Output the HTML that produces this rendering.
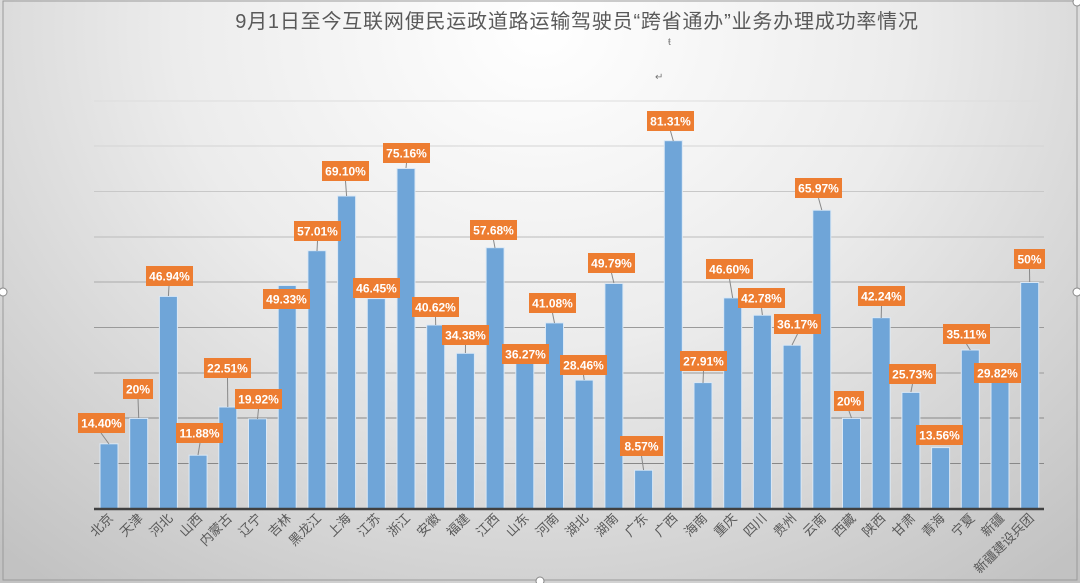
<!DOCTYPE html>
<html><head><meta charset="utf-8"><style>
html,body{margin:0;padding:0;width:1080px;height:583px;overflow:hidden;background:#fff}
svg{display:block}
.lb{font-family:"Liberation Sans",sans-serif;font-weight:bold;font-size:12px;fill:#fff;text-anchor:middle}
.xl{font-family:"Liberation Sans","Noto Sans CJK SC",sans-serif;font-size:13px;fill:#595959;text-anchor:end}
</style></head><body>
<svg width="1080" height="583" viewBox="0 0 1080 583">
<defs>
<radialGradient id="bg" cx="0.5" cy="0.05" r="0.75" gradientTransform="translate(0.5 0.05) scale(1 1.6) translate(-0.5 -0.05)">
<stop offset="0" stop-color="#ffffff"/><stop offset="0.45" stop-color="#ececec"/><stop offset="1" stop-color="#c2c2c2"/>
</radialGradient>
</defs>
<rect x="0" y="0" width="1080" height="583" fill="url(#bg)"/>
<rect x="3" y="1" width="1074" height="579" fill="none" stroke="#9a9a9a" stroke-width="1"/>
<circle cx="3" cy="292" r="4" fill="#fff" stroke="#888"/><circle cx="1077" cy="292" r="4" fill="#fff" stroke="#888"/>
<circle cx="540" cy="581" r="4" fill="#fff" stroke="#888"/><circle cx="1077" cy="2" r="4" fill="#fff" stroke="#888"/>
<text x="577" y="28" text-anchor="middle" font-family="'Liberation Sans','Noto Sans CJK SC',sans-serif" font-size="20" letter-spacing="0.8" fill="#595959">9月1日至今互联网便民运政道路运输驾驶员“跨省通办”业务办理成功率情况</text>
<text x="668" y="45" font-family="'Liberation Sans',sans-serif" font-size="10" fill="#777">ŧ</text>
<text x="655" y="80" font-family="'Liberation Sans',sans-serif" font-size="10" fill="#777">↵</text>
<g stroke="#9a9a9a" stroke-width="1">
<line x1="94" x2="1044" y1="101" y2="101" stroke="#ddd"/><line x1="94" x2="1044" y1="146" y2="146" stroke="#d4d4d4"/>
<line x1="94" x2="1044" y1="191.5" y2="191.5" stroke="#c8c8c8"/><line x1="94" x2="1044" y1="237" y2="237" stroke="#bbb"/>
<line x1="94" x2="1044" y1="282" y2="282" stroke="#aaa"/><line x1="94" x2="1044" y1="327.5" y2="327.5"/>
<line x1="94" x2="1044" y1="373" y2="373"/><line x1="94" x2="1044" y1="418" y2="418" stroke="#888"/>
<line x1="94" x2="1044" y1="463.5" y2="463.5" stroke="#888"/>
</g>
<g fill="#6fa5d8" stroke="#dbe8f5" stroke-width="1">
<rect x="100" y="443.8" width="18" height="65.2"/>
<rect x="129.7" y="418.4" width="18" height="90.6"/>
<rect x="159.4" y="296.4" width="18" height="212.6"/>
<rect x="189.1" y="455.2" width="18" height="53.8"/>
<rect x="218.8" y="407" width="18" height="102"/>
<rect x="248.5" y="418.8" width="18" height="90.2"/>
<rect x="278.2" y="285.5" width="18" height="223.5"/>
<rect x="307.9" y="250.7" width="18" height="258.3"/>
<rect x="337.6" y="196" width="18" height="313"/>
<rect x="367.3" y="298.6" width="18" height="210.4"/>
<rect x="397" y="168.5" width="18" height="340.5"/>
<rect x="426.7" y="325" width="18" height="184"/>
<rect x="456.4" y="353.3" width="18" height="155.7"/>
<rect x="486.1" y="247.7" width="18" height="261.3"/>
<rect x="515.8" y="344.7" width="18" height="164.3"/>
<rect x="545.5" y="322.9" width="18" height="186.1"/>
<rect x="575.2" y="380.1" width="18" height="128.9"/>
<rect x="604.9" y="283.5" width="18" height="225.5"/>
<rect x="634.6" y="470.2" width="18" height="38.8"/>
<rect x="664.3" y="140.7" width="18" height="368.3"/>
<rect x="694" y="382.6" width="18" height="126.4"/>
<rect x="723.7" y="297.9" width="18" height="211.1"/>
<rect x="753.4" y="315.2" width="18" height="193.8"/>
<rect x="783.1" y="345.2" width="18" height="163.8"/>
<rect x="812.8" y="210.2" width="18" height="298.8"/>
<rect x="842.5" y="418.4" width="18" height="90.6"/>
<rect x="872.2" y="317.7" width="18" height="191.3"/>
<rect x="901.9" y="392.4" width="18" height="116.6"/>
<rect x="931.6" y="447.6" width="18" height="61.4"/>
<rect x="961.3" y="350" width="18" height="159"/>
<rect x="991" y="373.9" width="18" height="135.1"/>
<rect x="1020.7" y="282.5" width="18" height="226.5"/>
</g>
<line x1="94" x2="1044" y1="509" y2="509" stroke="#404040" stroke-width="2.5"/>
<g stroke="#888" stroke-width="1">
<line x1="101" y1="433" x2="109" y2="444"/><line x1="138" y1="398" x2="138.7" y2="418"/>
<line x1="169" y1="286" x2="168.4" y2="296"/><line x1="200" y1="443" x2="198" y2="455"/>
<line x1="227.5" y1="378" x2="227.8" y2="407"/><line x1="258.5" y1="409" x2="257.5" y2="419"/>
<line x1="317.5" y1="241" x2="317" y2="251"/><line x1="345.5" y1="181" x2="346.6" y2="196"/>
<line x1="406.5" y1="163" x2="406" y2="168"/><line x1="435.5" y1="317" x2="435.7" y2="325"/>
<line x1="465.5" y1="345" x2="465.4" y2="353"/><line x1="493.5" y1="240" x2="495" y2="248"/>
<line x1="552.5" y1="313" x2="554.5" y2="323"/><line x1="583.5" y1="375" x2="584.2" y2="380"/>
<line x1="611.5" y1="273" x2="613.9" y2="283"/><line x1="641.5" y1="456" x2="643.6" y2="470"/>
<line x1="670.5" y1="131" x2="673.3" y2="141"/><line x1="703.5" y1="371" x2="703" y2="383"/>
<line x1="729.5" y1="279" x2="732.7" y2="298"/><line x1="761.5" y1="308" x2="762.4" y2="315"/>
<line x1="797.5" y1="334" x2="792" y2="345"/><line x1="818.5" y1="198" x2="821.8" y2="210"/>
<line x1="849" y1="411" x2="851.5" y2="418"/><line x1="881.5" y1="306" x2="881.2" y2="318"/>
<line x1="912.5" y1="384" x2="910.9" y2="392"/><line x1="966.5" y1="344" x2="970.3" y2="350"/>
<line x1="997.5" y1="383" x2="1000" y2="374"/><line x1="1029.5" y1="269" x2="1029.7" y2="282"/>
</g>
<g fill="#ed7d31">
<rect x="78" y="413" width="47" height="20"/><rect x="123" y="379" width="30" height="20"/>
<rect x="146" y="266" width="47" height="20"/><rect x="176" y="423" width="47" height="20"/>
<rect x="204" y="358" width="47" height="20"/><rect x="235" y="389" width="47" height="20"/>
<rect x="263" y="289" width="47" height="20"/><rect x="294" y="221" width="47" height="20"/>
<rect x="322" y="161" width="47" height="20"/><rect x="353" y="278" width="47" height="20"/>
<rect x="383" y="143" width="47" height="20"/><rect x="412" y="297" width="47" height="20"/>
<rect x="442" y="325" width="47" height="20"/><rect x="470" y="220" width="47" height="20"/>
<rect x="502" y="344" width="47" height="20"/><rect x="529" y="293" width="47" height="20"/>
<rect x="560" y="355" width="47" height="20"/><rect x="588" y="253" width="47" height="20"/>
<rect x="620" y="436" width="43" height="20"/><rect x="647" y="111" width="47" height="20"/>
<rect x="680" y="351" width="47" height="20"/><rect x="706" y="259" width="47" height="20"/>
<rect x="738" y="288" width="47" height="20"/><rect x="774" y="314" width="47" height="20"/>
<rect x="795" y="178" width="47" height="20"/><rect x="834" y="391" width="30" height="20"/>
<rect x="858" y="286" width="47" height="20"/><rect x="889" y="364" width="47" height="20"/>
<rect x="916" y="425" width="47" height="20"/><rect x="943" y="324" width="47" height="20"/>
<rect x="974" y="363" width="47" height="20"/><rect x="1014" y="249" width="31" height="20"/>
</g>
<g class="lb">
<text x="101.5" y="427.5">14.40%</text><text x="138" y="393.5">20%</text>
<text x="169.5" y="280.5">46.94%</text><text x="199.5" y="437.5">11.88%</text>
<text x="227.5" y="372.5">22.51%</text><text x="258.5" y="403.5">19.92%</text>
<text x="286.5" y="303.5">49.33%</text><text x="317.5" y="235.5">57.01%</text>
<text x="345.5" y="175.5">69.10%</text><text x="376.5" y="292.5">46.45%</text>
<text x="406.5" y="157.5">75.16%</text><text x="435.5" y="311.5">40.62%</text>
<text x="465.5" y="339.5">34.38%</text><text x="493.5" y="234.5">57.68%</text>
<text x="525.5" y="358.5">36.27%</text><text x="552.5" y="307.5">41.08%</text>
<text x="583.5" y="369.5">28.46%</text><text x="611.5" y="267.5">49.79%</text>
<text x="641.5" y="450.5">8.57%</text><text x="670.5" y="125.5">81.31%</text>
<text x="703.5" y="365.5">27.91%</text><text x="729.5" y="273.5">46.60%</text>
<text x="761.5" y="302.5">42.78%</text><text x="797.5" y="328.5">36.17%</text>
<text x="818.5" y="192.5">65.97%</text><text x="849" y="405.5">20%</text>
<text x="881.5" y="300.5">42.24%</text><text x="912.5" y="378.5">25.73%</text>
<text x="939.5" y="439.5">13.56%</text><text x="966.5" y="338.5">35.11%</text>
<text x="997.5" y="377.5">29.82%</text><text x="1029.5" y="263.5">50%</text>
</g>
<g class="xl">
<text transform="translate(114,519) rotate(-45)">北京</text>
<text transform="translate(143.7,519) rotate(-45)">天津</text>
<text transform="translate(173.4,519) rotate(-45)">河北</text>
<text transform="translate(203.1,519) rotate(-45)">山西</text>
<text transform="translate(232.8,519) rotate(-45)">内蒙古</text>
<text transform="translate(262.5,519) rotate(-45)">辽宁</text>
<text transform="translate(292.2,519) rotate(-45)">吉林</text>
<text transform="translate(321.9,519) rotate(-45)">黑龙江</text>
<text transform="translate(351.6,519) rotate(-45)">上海</text>
<text transform="translate(381.3,519) rotate(-45)">江苏</text>
<text transform="translate(411,519) rotate(-45)">浙江</text>
<text transform="translate(440.7,519) rotate(-45)">安徽</text>
<text transform="translate(470.4,519) rotate(-45)">福建</text>
<text transform="translate(500.1,519) rotate(-45)">江西</text>
<text transform="translate(529.8,519) rotate(-45)">山东</text>
<text transform="translate(559.5,519) rotate(-45)">河南</text>
<text transform="translate(589.2,519) rotate(-45)">湖北</text>
<text transform="translate(618.9,519) rotate(-45)">湖南</text>
<text transform="translate(648.6,519) rotate(-45)">广东</text>
<text transform="translate(678.3,519) rotate(-45)">广西</text>
<text transform="translate(708,519) rotate(-45)">海南</text>
<text transform="translate(737.7,519) rotate(-45)">重庆</text>
<text transform="translate(767.4,519) rotate(-45)">四川</text>
<text transform="translate(797.1,519) rotate(-45)">贵州</text>
<text transform="translate(826.8,519) rotate(-45)">云南</text>
<text transform="translate(856.5,519) rotate(-45)">西藏</text>
<text transform="translate(886.2,519) rotate(-45)">陕西</text>
<text transform="translate(915.9,519) rotate(-45)">甘肃</text>
<text transform="translate(945.6,519) rotate(-45)">青海</text>
<text transform="translate(975.3,519) rotate(-45)">宁夏</text>
<text transform="translate(1005,519) rotate(-45)">新疆</text>
<text transform="translate(1034.7,519) rotate(-45)">新疆建设兵团</text>
</g>
</svg>
</body></html>
